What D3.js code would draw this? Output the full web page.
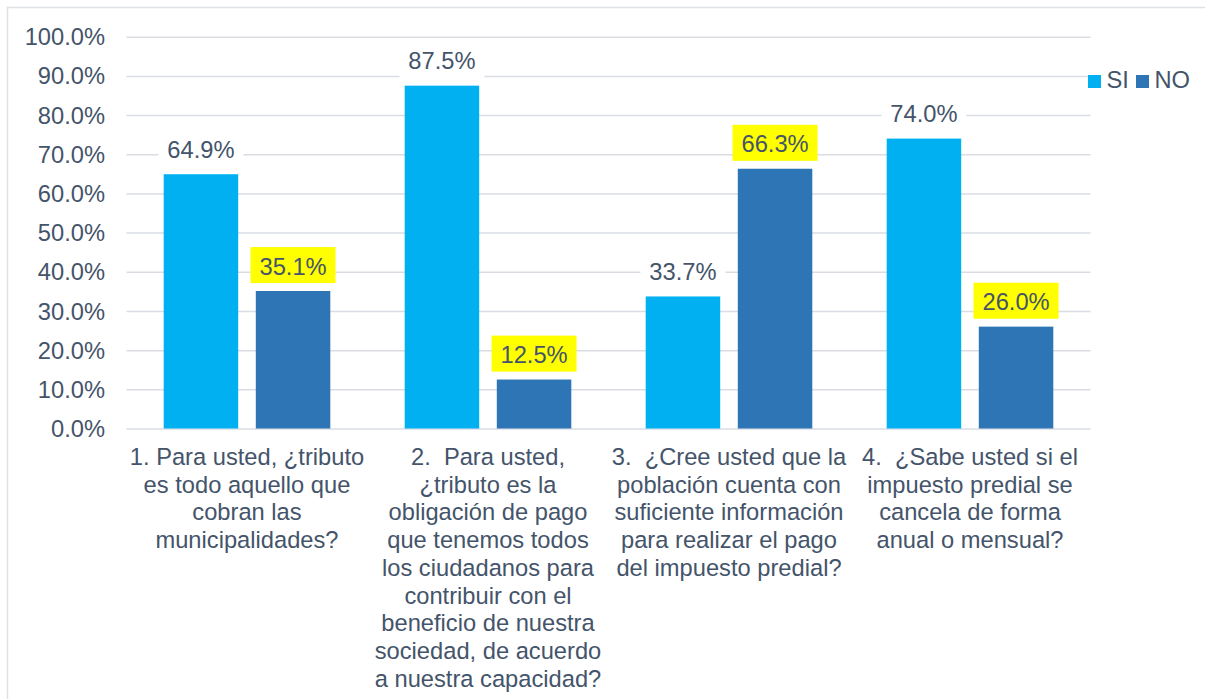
<!DOCTYPE html>
<html>
<head>
<meta charset="utf-8">
<script src="https://cdn.jsdelivr.net/npm/d3@7"></script>
<style>
  body { margin: 0; background: #fff; }
  text { font-family: "Liberation Sans", Arial, sans-serif; fill: #44546a; }
</style>
</head>
<body>
<svg width="1205" height="699"></svg>
<script>
// data
const categories = ['q1', 'q2', 'q3', 'q4'];
const categoryLines = [
  ['1. Para usted, ¿tributo', 'es todo aquello que', 'cobran las', 'municipalidades?'],
  ['2.  Para usted,', '¿tributo es la', 'obligación de pago', 'que tenemos todos', 'los ciudadanos para',
   'contribuir con el', 'beneficio de nuestra', 'sociedad, de acuerdo', 'a nuestra capacidad?'],
  ['3.  ¿Cree usted que la', 'población cuenta con', 'suficiente información', 'para realizar el pago', 'del impuesto predial?'],
  ['4.  ¿Sabe usted si el', 'impuesto predial se', 'cancela de forma', 'anual o mensual?']
];
const seriesNames = ['SI', 'NO'];
const siValues = [64.9, 87.5, 33.7, 74.0];
const noValues = [35.1, 12.5, 66.3, 26.0];
const yTicks = [0, 10, 20, 30, 40, 50, 60, 70, 80, 90, 100];

const colors = { SI: '#00b0f0', NO: '#2e75b6' };
const fontSize = 23.7;

var svg = d3.select('svg');

// outer frame
svg.append('rect')
  .attr('x', 7.5).attr('y', 7.5)
  .attr('width', 1230).attr('height', 720)
  .attr('fill', 'none')
  .attr('stroke', '#dde1e6')
  .attr('stroke-width', 1.5);

var x = d3.scaleBand().domain(categories).range([126.5, 1090.5]);
var y = d3.scaleLinear().domain([0, 100]).range([428.5, 36.7]);
var xs = d3.scaleBand().domain(seriesNames).range([0, 166.6]).paddingInner(0.191);

// gridlines
svg.append('g')
  .attr('transform', 'translate(126.5,0)')
  .call(d3.axisLeft(y).tickValues(yTicks).tickSize(-(1090.5 - 126.5)).tickFormat(''))
  .call(g => g.select('.domain').remove())
  .call(g => g.selectAll('.tick line').attr('stroke', '#d9dde3').attr('stroke-width', 1.5));

// y labels
svg.append('g').selectAll('text')
  .data(yTicks)
  .enter().append('text')
  .attr('x', 105)
  .attr('y', d => y(d) + 8.6)
  .attr('text-anchor', 'end')
  .attr('font-size', fontSize)
  .text(d => d.toFixed(1) + '%');

var data = [];
categories.forEach((c, i) => {
  data.push({ cat: c, s: 'SI', v: siValues[i] });
  data.push({ cat: c, s: 'NO', v: noValues[i] });
});

var off = (x.bandwidth() - 166.6) / 2;

svg.append('g').selectAll('rect')
  .data(data)
  .enter().append('rect')
  .attr('x', d => x(d.cat) + off + xs(d.s))
  .attr('y', d => y(d.v))
  .attr('width', xs.bandwidth())
  .attr('height', d => y(0) - y(d.v))
  .attr('fill', d => colors[d.s]);

// value labels (NO labels highlighted in yellow)
var lab = svg.append('g').selectAll('g')
  .data(data)
  .enter().append('g')
  .attr('transform', d => 'translate(' + (x(d.cat) + off + xs(d.s) + xs.bandwidth() / 2) + ',' + (y(d.v) - 16.3) + ')');

lab.append('rect')
  .attr('x', -42.5).attr('y', -27.6)
  .attr('width', 85).attr('height', 36)
  .attr('fill', d => (d.s === 'NO') ? '#ffff00' : '#ffffff');

lab.append('text')
  .attr('text-anchor', 'middle')
  .attr('font-size', fontSize)
  .text(d => d.v.toFixed(1) + '%');

// category labels
categoryLines.forEach((lines, i) => {
  var t = svg.append('text')
    .attr('text-anchor', 'middle')
    .attr('font-size', fontSize)
    .style('white-space', 'pre');
  lines.forEach((l, j) => {
    t.append('tspan')
      .attr('x', x(categories[i]) + x.bandwidth() / 2)
      .attr('y', 465 + j * 27.7)
      .text(l);
  });
});

// legend
var leg = svg.append('g').selectAll('g')
  .data(seriesNames)
  .enter().append('g')
  .attr('transform', (d, i) => 'translate(' + [1088, 1136][i] + ',75)');
leg.append('rect')
  .attr('width', 13).attr('height', 13)
  .attr('fill', d => colors[d]);
leg.append('text')
  .attr('x', 18.5)
  .attr('y', 13.3)
  .attr('font-size', fontSize)
  .text(d => d);
</script>
</body>
</html>
